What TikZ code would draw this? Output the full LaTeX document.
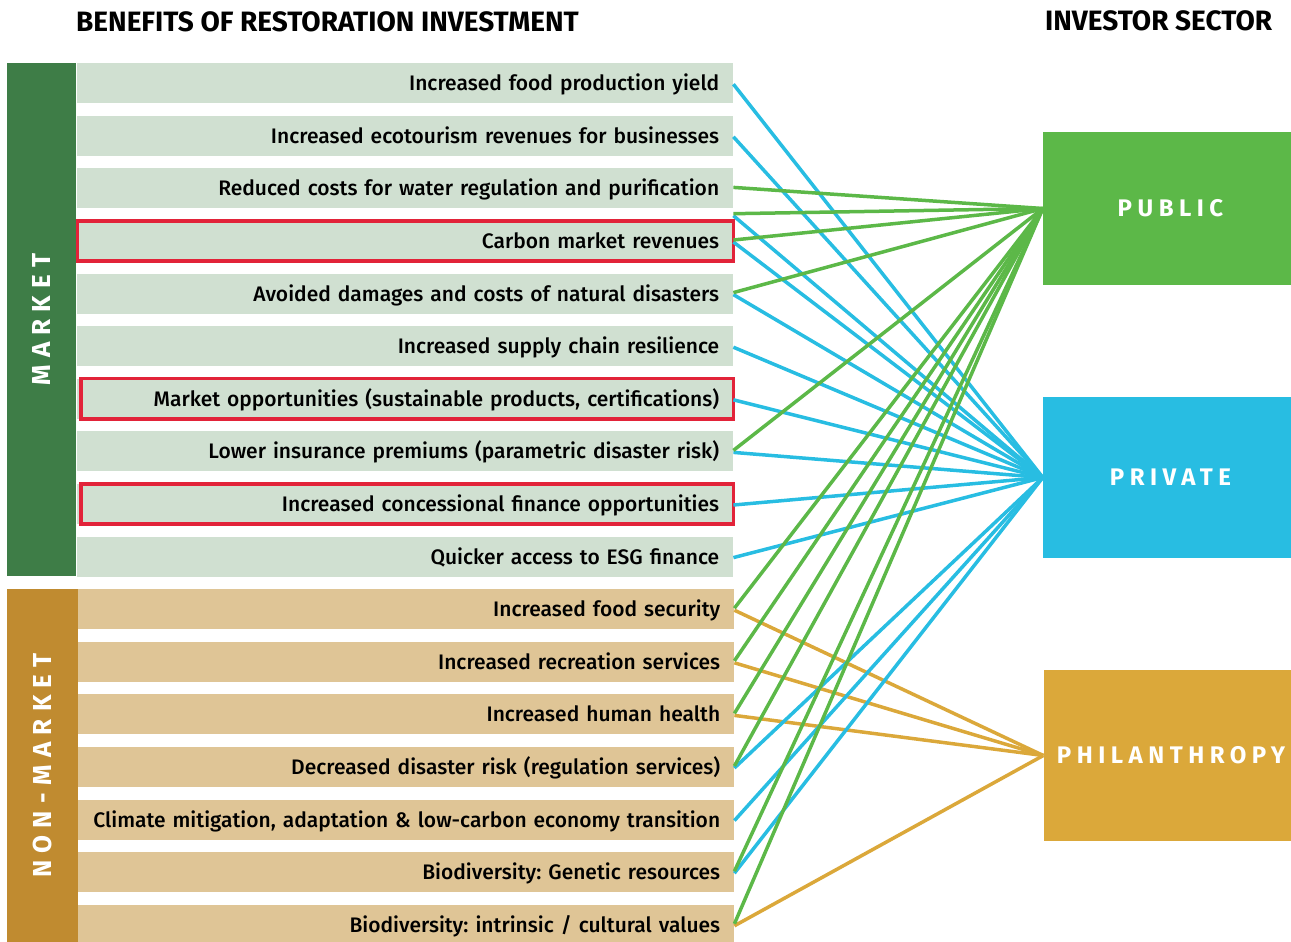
\documentclass[tikz,border=0pt]{standalone}
\usepackage{fontspec}
\setmainfont{Fira Sans}
\newfontfamily\rowfont{Fira Sans Medium}
\newfontfamily\headfont{Fira Sans}
\newfontfamily\spacedfont{Fira Sans}[LetterSpace=23]
\newfontfamily\barfont{Fira Sans}[LetterSpace=28]
\usepackage{tikz}
\usetikzlibrary{calc}
\definecolor{marketdark}{RGB}{62,125,71}
\definecolor{marketrow}{RGB}{208,224,209}
\definecolor{nonmarketdark}{RGB}{192,139,48}
\definecolor{nonmarketrow}{RGB}{223,197,150}
\definecolor{pubgreen}{RGB}{92,184,72}
\definecolor{privblue}{RGB}{40,189,226}
\definecolor{philgold}{RGB}{219,168,58}
\definecolor{framered}{RGB}{226,35,57}
\tikzset{
  benefit/.style={anchor=north west,minimum height=40pt,text width=628pt,align=right,
    inner xsep=14pt,inner ysep=0pt,text height=15pt,text depth=0pt,
    font=\rowfont\frenchspacing\fontsize{21}{21}\selectfont},
  market row/.style={benefit,fill=marketrow},
  nonmarket row/.style={benefit,fill=nonmarketrow},
  group bar/.style={rotate=90,inner sep=0pt,text=white,font=\barfont\bfseries\fontsize{26}{26}\selectfont},
  sector/.style={minimum width=248pt,inner sep=0pt,text=white,
    execute at begin node=\hspace*{7pt},font=\spacedfont\bfseries\fontsize{24}{24}\selectfont},
  heading/.style={anchor=base west,inner sep=0pt,font=\headfont\bfseries\fontsize{28}{28}\selectfont},
  link/.style={line width=3.5pt},
  to public/.style={link,draw=pubgreen},
  to private/.style={link,draw=privblue},
  to philanthropy/.style={link,draw=philgold},
  highlight/.style={draw=framered,line width=3.5pt},
}

\begin{document}
\begin{tikzpicture}[x=1pt,y=-1pt]
\useasboundingbox (0,0) rectangle (1291,942);
\node[heading] (benefits) at (76,32) {BENEFITS OF RESTORATION INVESTMENT};
\node[heading] (investors) at (1045,31) {INVESTOR SECTOR};
% benefit rows
\foreach \txt [count=\i] in {{Increased food production yield},
  {Increased ecotourism revenues for businesses},
  {Reduced costs for water regulation and purification},
  {Carbon market revenues},
  {Avoided damages and costs of natural disasters},
  {Increased supply chain resilience},
  {Market opportunities (sustainable products, certifications)},
  {Lower insurance premiums (parametric disaster risk)},
  {Increased concessional finance opportunities},
  {Quicker access to ESG finance}}
  \node[market row] (r\i) at (77,{63+(\i-1)*52.6}) {\txt};
\foreach \txt [count=\i from 11] in {{Increased food security},
  {Increased recreation services},
  {Increased human health},
  {Decreased disaster risk (regulation services)},
  {Climate mitigation, adaptation \& low-carbon economy transition},
  {Biodiversity: Genetic resources},
  {Biodiversity: intrinsic / cultural values}}
  \node[nonmarket row] (r\i) at (78,{63+(\i-1)*52.6}) {\txt};
\foreach \r/\dx in {4/0,7/4,9/4}
  \draw[highlight] ([xshift=\dx pt]r\r.north west) rectangle (r\r.south east);
% group bars
\node[group bar,fill=marketdark,minimum width=513pt,minimum height=69pt] (market) at (41.5,319.5) {MARKET};
\node[group bar,fill=nonmarketdark,minimum width=353pt,minimum height=71pt] (nonmarket) at (42.5,765.5) {NON-MARKET};
% investor sectors
\node[sector,fill=pubgreen,minimum height=153pt] (public) at (1167,208.5) {PUBLIC};
\node[sector,fill=privblue,minimum height=161pt] (private) at (1167,477.5) {PRIVATE};
\node[sector,fill=philgold,minimum height=171pt] (philanthropy) at (1167.5,755.5) {PHILANTHROPY};
% links
\coordinate (r34) at ($(r3.south east)!0.5!(r4.north east)$);
\foreach \r in {11,12,13,17}
  \draw[to philanthropy] ([yshift=-1pt]r\r.east) -- (philanthropy.west);
\foreach \r in {1,2,4,5,6,7,8,9,10,14,15,16}
  \draw[to private] ([yshift=-1pt]r\r.east) -- (private.west);
\draw[to private] ([yshift=-1pt]r34) -- (private.west);
\foreach \r in {3,4,5,8,11,12,13,14,16,17}
  \draw[to public] ([yshift=1pt]r\r.east) -- (public.west);
\draw[to public] ([yshift=1pt]r34) -- (public.west);
\end{tikzpicture}
\end{document}
